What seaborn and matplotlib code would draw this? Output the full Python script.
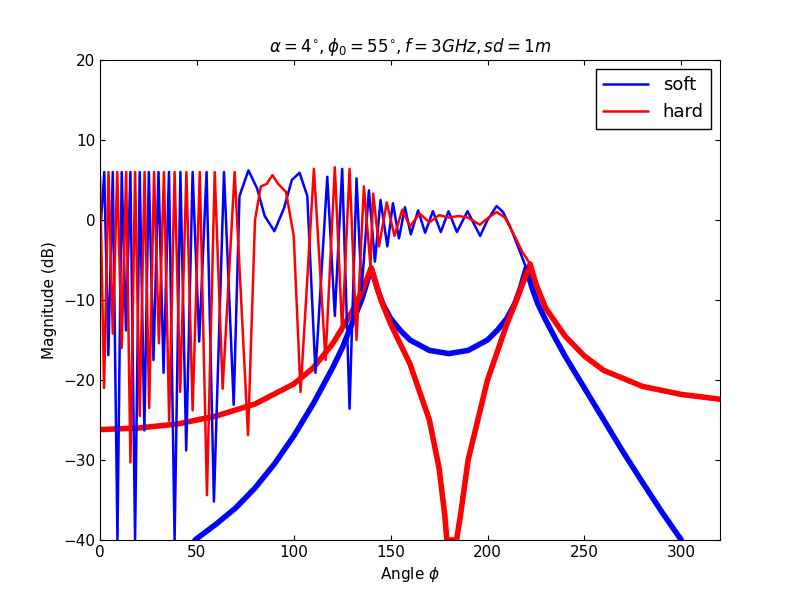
import matplotlib
matplotlib.use("Agg")
import matplotlib.pyplot as plt
import seaborn as sns

sns.set_style("ticks")
plt.rcParams.update({"text.color": "black", "axes.labelcolor": "black",
                     "xtick.color": "black", "ytick.color": "black",
                     "axes.edgecolor": "black"})

# soft (blue) total field: extrema
soft_x = [0, 2.2, 4.3, 6.6, 9, 11.2, 13.4, 15.7, 18.1, 20.5, 22.9, 25.2, 27.6, 30.2, 32.8, 35.6, 38.5, 41.5, 44.5, 47.8, 51.2, 55, 58.8, 64, 69, 72, 76.6, 81, 85, 90, 95, 99, 103, 107, 111.2, 117.3, 121.2, 125, 128.8, 132.4, 135, 138.8, 141.9, 144.8, 148.3, 151.2, 154.3, 157.4, 160.4, 164.2, 167.8, 171.8, 175.9, 179.9, 184.2, 189.7, 196.2, 200, 204.7, 208, 212, 216, 220]
soft_y = [-2, 6, -16.9, 6, -40, 6, -13.8, 6, -40, 6, -26.3, 6, -17.5, 6, -19.1, 6, -40, 6, -28.8, 6, -15.2, 6, -35.2, 6, -23.1, 3, 6.2, 4, 0.5, -1.4, 1.5, 5, 5.9, 3, -19.1, 5.4, -12, 6.4, -23.6, 5.2, -8.8, 3.7, -5.2, 2.5, -3.3, 2.1, -2.3, 1.6, -1.8, 1.2, -1.6, 1.1, -1.5, 1.1, -1.5, 1.1, -2.0, 0, 1.75, 1.0, -1.0, -3.5, -6]

# hard (red) total field
hard_x = [0, 2.1, 4.4, 6.6, 8.9, 11.2, 13.5, 15.7, 18.1, 20.5, 23, 25.4, 27.9, 30.4, 33, 35.7, 38.5, 41.4, 44.6, 47.8, 51.5, 55.2, 59.2, 63.3, 69.5, 76.4, 80, 83, 86, 89, 92, 96, 100, 103.5, 110.4, 116.4, 121.2, 125, 128.8, 132.4, 136.2, 139.6, 141, 144, 148, 152, 156, 160, 165, 170, 175, 180, 185, 190, 196, 200, 204.7, 209, 214, 218, 222]
hard_y = [5.5, -21, 6, -14.2, 6, -16, 6, -30.3, 6, -24.5, 6, -23.5, 6, -15.4, 6, -25.1, 6, -21.5, 6, -23.8, 6, -34.4, 6, -21.1, 6, -26.9, 0, 4.2, 4.5, 5.6, 4.5, 3.5, -2, -21.5, 6.4, -17.5, 6.6, -14, 6.4, -15, 4.2, -5.8, 3.3, -3.3, 2.2, -2.0, 1.3, -0.8, 0.8, -0.3, 0.6, 0.3, 0.5, 0.3, -0.6, 0.2, 1.0, 0.3, -2.0, -4.0, -5.5]

# diffraction only (thick dotted curves)
dsoft_x = [49, 60, 70, 80, 90, 100, 110, 120, 125, 130, 135, 140, 143, 146, 150, 155, 160, 170, 180, 190, 200, 205, 210, 214, 217, 220, 223, 226, 230, 235, 240, 250, 260, 270, 280, 290, 300]
dsoft_y = [-40, -38, -36, -33.5, -30.5, -27, -23, -18.5, -16, -13, -10, -6, -8.5, -10.5, -12.3, -13.8, -15, -16.3, -16.7, -16.3, -15, -13.8, -12.3, -10.5, -8.5, -6, -8.5, -10.5, -12.5, -14.8, -17, -21, -25, -29, -32.8, -36.5, -40]
dhard_x = [0, 20, 40, 60, 80, 100, 110, 120, 130, 135, 140, 145, 150, 160, 170, 175, 178, 179, 184, 186, 190, 200, 210, 215, 222, 225, 230, 240, 250, 260, 280, 300, 320]
dhard_y = [-26.2, -26, -25.5, -24.5, -23, -20.5, -18.5, -15.5, -11.5, -9, -6, -10, -13, -18, -25, -31, -37, -40, -40, -37, -30, -20, -13, -10, -5.5, -8, -11, -14.5, -17, -18.8, -20.8, -21.8, -22.4]

fig, ax = plt.subplots(figsize=(8, 6), dpi=100)
sns.lineplot(x=dsoft_x, y=dsoft_y, sort=False, estimator=None, color="blue", lw=4, ax=ax)
sns.lineplot(x=dhard_x, y=dhard_y, sort=False, estimator=None, color="red", lw=4, ax=ax)
sns.lineplot(x=soft_x, y=soft_y, sort=False, estimator=None, color="blue", lw=1.8, ax=ax, label="soft")
sns.lineplot(x=hard_x, y=hard_y, sort=False, estimator=None, color="red", lw=1.8, ax=ax, label="hard")

ax.set_xlim(0, 320)
ax.set_ylim(-40, 20)
ax.set_xticks(range(0, 301, 50))
ax.set_yticks(range(-40, 21, 10))
ax.tick_params(direction="in", top=True, right=True, labelsize=11)
ax.set_xlabel(r"Angle $\phi$", fontsize=11)
ax.set_ylabel("Magnitude (dB)", fontsize=11)
ax.set_title(r"$\alpha=4^{\circ},\phi_0=55^{\circ},f=3GHz,sd=1m$", fontsize=12)
ax.legend(loc="upper right", fontsize=13, fancybox=False, edgecolor="black",
          framealpha=1, handlelength=2.5)
fig.subplots_adjust(left=0.125, right=0.9, bottom=0.1, top=0.9)
fig.savefig("out.png")
